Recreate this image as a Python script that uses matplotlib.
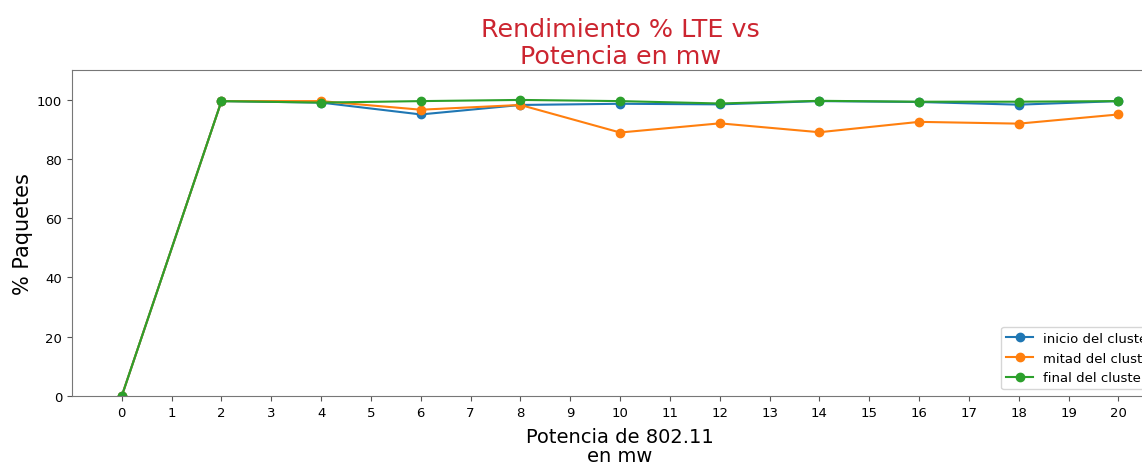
import matplotlib
matplotlib.use("Agg")
import matplotlib.pyplot as plt

potencia = [0, 2, 4, 6, 8, 10, 12, 14, 16, 18, 20]
inicio = [0, 99.5, 99.0, 95.0, 98.2, 98.6, 98.4, 99.5, 99.2, 98.3, 99.5]
mitad = [0, 99.5, 99.5, 96.6, 98.2, 88.9, 92.0, 89.0, 92.5, 91.9, 95.0]
final = [0, 99.5, 99.0, 99.5, 99.9, 99.5, 98.7, 99.6, 99.3, 99.3, 99.5]
series_labels = ["inicio del cluster", "mitad del cluster", "final del cluster"]
xticks = list(range(0, 21))

fig = plt.figure(figsize=(11.42, 4.64), dpi=100)
ax = fig.add_axes([0.063, 0.1444, 0.96, 0.7026])

for vals, lab, col in zip([inicio, mitad, final], series_labels,
                          ["#1f77b4", "#ff7f0e", "#2ca02c"]):
    ax.plot(potencia, vals, marker="o", markersize=6, linewidth=1.5,
            color=col, label=lab)

ax.set_xlim(-1, 21)
ax.set_ylim(0, 110)
ax.set_xticks(xticks)
ax.set_yticks([0, 20, 40, 60, 80, 100])
ax.tick_params(labelsize=9.5, length=3.5, color="#555555")
for sp in ax.spines.values():
    sp.set_color("#777777")

ax.set_title("Rendimiento % LTE vs\nPotencia en mw", color="#cc2530",
             fontsize=18.3, pad=5, linespacing=1.17)
ax.set_xlabel("Potencia de 802.11\nen mw", fontsize=14, labelpad=6,
              linespacing=1.0)
ax.set_ylabel("% Paquetes", fontsize=15, labelpad=3)
ax.legend(loc="lower right", fontsize=9.5)

fig.savefig("out.png", dpi=100)
